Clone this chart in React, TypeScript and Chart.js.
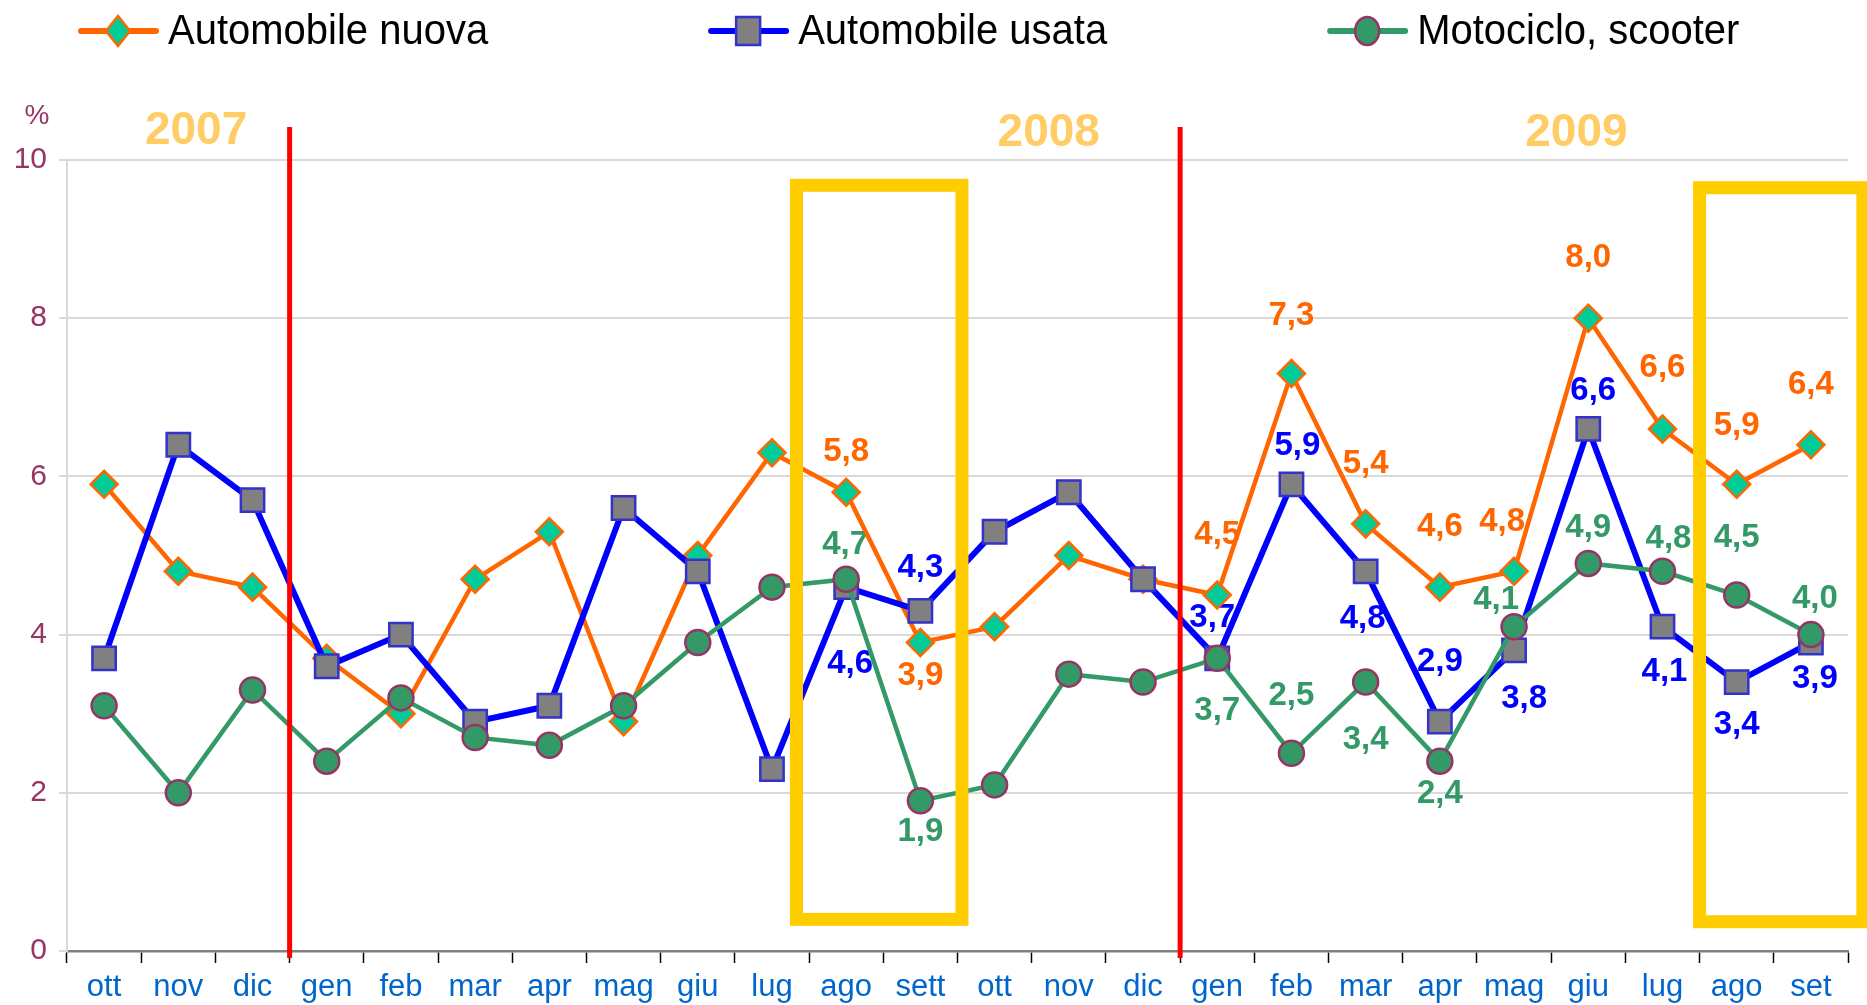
import React, { useEffect, useRef } from 'react';
import { Chart, registerables } from 'chart.js';

Chart.register(...registerables);

// ---- data ----
const months = ['ott', 'nov', 'dic', 'gen', 'feb', 'mar', 'apr', 'mag', 'giu', 'lug', 'ago', 'sett', 'ott', 'nov', 'dic', 'gen', 'feb', 'mar', 'apr', 'mag', 'giu', 'lug', 'ago', 'set'];
const nuova = [5.9, 4.8, 4.6, 3.7, 3.0, 4.7, 5.3, 2.9, 5.0, 6.3, 5.8, 3.9, 4.1, 5.0, 4.7, 4.5, 7.3, 5.4, 4.6, 4.8, 8.0, 6.6, 5.9, 6.4];
const usata = [3.7, 6.4, 5.7, 3.6, 4.0, 2.9, 3.1, 5.6, 4.8, 2.3, 4.6, 4.3, 5.3, 5.8, 4.7, 3.7, 5.9, 4.8, 2.9, 3.8, 6.6, 4.1, 3.4, 3.9];
const moto = [3.1, 2.0, 3.3, 2.4, 3.2, 2.7, 2.6, 3.1, 3.9, 4.6, 4.7, 1.9, 2.1, 3.5, 3.4, 3.7, 2.5, 3.4, 2.4, 4.1, 4.9, 4.8, 4.5, 4.0];
const seriesNames = ['Automobile nuova', 'Automobile usata', 'Motociclo, scooter'];
const yearLabels = ['2007', '2008', '2009'];

// label placement: [index, dx, dy] (pixels from the point)
const nuovaLabelPlaces = [[10, 0, -40], [11, 0, 33], [15, 0, -60], [16, 0, -58], [17, 0, -60], [18, 0, -60], [19, -12, -49], [20, 0, -60], [21, 0, -61], [22, 0, -58], [23, 0, -60]];
const usataLabelPlaces = [[10, 4, 77], [11, 0, -43], [15, -5, -40], [16, 6, -38], [17, -3, 48], [18, 0, -60], [19, 10, 48], [20, 5, -38], [21, 2, 45], [22, 0, 43], [23, 4, 36]];
const motoLabelPlaces = [[10, -1, -34], [11, 0, 31], [15, 0, 53], [16, 0, -57], [17, 0, 58], [18, 0, 33], [19, -18, -27], [20, 0, -36], [21, 6, -32], [22, 0, -57], [23, 4, -36]];

// annotation placement (category-index units / value units)
const yearPos = [1.24, 12.73, 19.84];
const yearDividers = [2.5, 14.5];
const highlightBoxes = [
  { from: 9.83, to: 12.06, top: 9.68, bottom: 0.4 },
  { from: 22.0, to: 24.2, top: 9.65, bottom: 0.37 },
];

const ORANGE = '#FF6600';
const BLUE = '#0000FF';
const GREEN = '#339966';
const FONT = '"Liberation Sans", Arial, sans-serif';

const fmt = (v: number) => v.toFixed(1).replace('.', ',');

const overlayPlugin = {
  id: 'overlay',
  beforeDatasetsDraw(chart: any) {
    const { ctx } = chart;
    const xs = chart.scales.x;
    const ys = chart.scales.y;
    const groups = [
      { values: nuova, color: ORANGE, places: nuovaLabelPlaces },
      { values: usata, color: BLUE, places: usataLabelPlaces },
      { values: moto, color: GREEN, places: motoLabelPlaces },
    ];
    ctx.save();
    ctx.font = `bold 33px ${FONT}`;
    ctx.textAlign = 'center';
    ctx.textBaseline = 'middle';
    groups.forEach((g) => {
      ctx.fillStyle = g.color;
      g.places.forEach(([i, dx, dy]) => {
        const px = xs.getPixelForValue(i) + dx;
        const py = ys.getPixelForValue(g.values[i]) + dy;
        ctx.fillText(fmt(g.values[i]), px, py);
      });
    });
    ctx.restore();
  },
  afterDatasetsDraw(chart: any) {
    const { ctx, chartArea } = chart;
    const xs = chart.scales.x;
    const ys = chart.scales.y;
    const p0 = xs.getPixelForValue(0);
    const step = xs.getPixelForValue(1) - p0;
    const idxPx = (v: number) => p0 + v * step;
    ctx.save();
    // yellow highlight boxes
    ctx.strokeStyle = '#FFCC00';
    ctx.lineWidth = 13;
    highlightBoxes.forEach((b) => {
      const l = idxPx(b.from - 0.5);
      const r = idxPx(b.to - 0.5);
      const t = ys.getPixelForValue(b.top);
      const btm = ys.getPixelForValue(b.bottom);
      ctx.strokeRect(l, t, r - l, btm - t);
    });
    // red year dividers
    ctx.strokeStyle = '#FF0000';
    ctx.lineWidth = 5;
    yearDividers.forEach((d) => {
      const x = idxPx(d);
      ctx.beginPath();
      ctx.moveTo(x, chartArea.top - 33);
      ctx.lineTo(x, chartArea.bottom + 7);
      ctx.stroke();
    });
    ctx.restore();
  },
  afterDraw(chart: any) {
    const { ctx, chartArea } = chart;
    const xs = chart.scales.x;
    const p0 = xs.getPixelForValue(0);
    const step = xs.getPixelForValue(1) - p0;
    ctx.save();
    // years
    ctx.font = `bold 46px ${FONT}`;
    ctx.fillStyle = '#FFCC66';
    ctx.textAlign = 'center';
    ctx.textBaseline = 'middle';
    yearLabels.forEach((t, k) => {
      ctx.fillText(t, p0 + yearPos[k] * step, chartArea.top - (k === 0 ? 29 : 27));
    });
    // percent sign
    ctx.font = `28px ${FONT}`;
    ctx.fillStyle = '#993366';
    ctx.fillText('%', 37, chartArea.top - 44);

    // legend
    const cy = 31;
    const squeeze = 0.93;
    ctx.font = `43px ${FONT}`;
    ctx.textAlign = 'left';
    ctx.textBaseline = 'alphabetic';
    const colors = [ORANGE, BLUE, GREEN];
    let x = 78;
    seriesNames.forEach((name, k) => {
      // line
      ctx.strokeStyle = colors[k];
      ctx.lineWidth = 6;
      ctx.lineCap = 'round';
      ctx.beginPath();
      ctx.moveTo(x + 3, cy);
      ctx.lineTo(x + 78, cy);
      ctx.stroke();
      const cx = x + 40;
      ctx.lineWidth = 2.5;
      ctx.lineCap = 'butt';
      ctx.beginPath();
      if (k === 0) {
        ctx.moveTo(cx - 12, cy);
        ctx.lineTo(cx, cy - 15);
        ctx.lineTo(cx + 12, cy);
        ctx.lineTo(cx, cy + 15);
        ctx.closePath();
        ctx.fillStyle = '#00CC99';
        ctx.strokeStyle = ORANGE;
      } else if (k === 1) {
        ctx.rect(cx - 12, cy - 14, 24, 28);
        ctx.fillStyle = '#808080';
        ctx.strokeStyle = '#3333CC';
      } else {
        ctx.ellipse(cx, cy, 12, 14, 0, 0, Math.PI * 2);
        ctx.fillStyle = GREEN;
        ctx.strokeStyle = '#993366';
      }
      ctx.fill();
      ctx.stroke();
      // text
      const tx = x + 90;
      const w = ctx.measureText(name).width * squeeze;
      ctx.save();
      ctx.translate(tx, 44);
      ctx.scale(squeeze, 1);
      ctx.fillStyle = '#000000';
      ctx.fillText(name, 0, 0);
      ctx.restore();
      x = tx + w + 220;
    });
    ctx.restore();
  },
};

export default function App() {
  const canvasRef = useRef<HTMLCanvasElement | null>(null);

  useEffect(() => {
    const canvas = canvasRef.current;
    if (!canvas) return;
    const chart = new Chart(canvas, {
      type: 'line',
      data: {
        labels: months,
        datasets: [
          {
            label: seriesNames[0],
            data: nuova,
            borderColor: ORANGE,
            borderWidth: 4.5,
            pointStyle: 'rectRot',
            pointRadius: 13.5,
            pointHoverRadius: 13.5,
            pointBackgroundColor: '#00CC99',
            pointBorderColor: ORANGE,
            pointBorderWidth: 2.5,
            tension: 0,
            order: 2,
          },
          {
            label: seriesNames[1],
            data: usata,
            borderColor: BLUE,
            borderWidth: 6,
            pointStyle: 'rect',
            pointRadius: 16.5,
            pointHoverRadius: 16.5,
            pointBackgroundColor: '#808080',
            pointBorderColor: '#3333CC',
            pointBorderWidth: 2.5,
            tension: 0,
            order: 1,
          },
          {
            label: seriesNames[2],
            data: moto,
            borderColor: GREEN,
            borderWidth: 4.5,
            pointStyle: 'circle',
            pointRadius: 12.5,
            pointHoverRadius: 12.5,
            pointBackgroundColor: GREEN,
            pointBorderColor: '#993366',
            pointBorderWidth: 2.5,
            tension: 0,
            order: 0,
          },
        ],
      },
      options: {
        animation: false,
        responsive: false,
        events: [],
        layout: { padding: { top: 160, left: 15, right: 14, bottom: 0 } },
        plugins: {
          legend: { display: false },
          tooltip: { enabled: false },
        },
        scales: {
          x: {
            offset: true,
            grid: {
              display: true,
              drawOnChartArea: false,
              drawTicks: true,
              tickLength: 12,
              tickColor: '#000000',
              tickWidth: 1.5,
              offset: true,
            },
            border: { display: true, color: '#808080', width: 2.5 },
            ticks: {
              color: '#0066CC',
              font: { family: FONT, size: 31 },
              padding: 6,
              maxRotation: 0,
              autoSkip: false,
            },
            afterFit: (s: any) => {
              s.height = 54;
            },
          },
          y: {
            min: 0,
            max: 10,
            ticks: {
              stepSize: 2,
              color: '#993366',
              font: { family: FONT, size: 30 },
              padding: 12,
            },
            grid: { color: '#D9D9D9', lineWidth: 2, tickLength: 8 },
            border: { color: '#D9D9D9', width: 2 },
            afterFit: (s: any) => {
              s.width = 52;
            },
          },
        },
      },
      plugins: [overlayPlugin],
    });
    return () => chart.destroy();
  }, []);

  return (
    <div style={{ position: 'absolute', left: 0, top: 0, width: 1867, height: 1005, background: '#ffffff' }}>
      <canvas ref={canvasRef} width={1867} height={1005} style={{ display: 'block', width: 1867, height: 1005 }} />
    </div>
  );
}
